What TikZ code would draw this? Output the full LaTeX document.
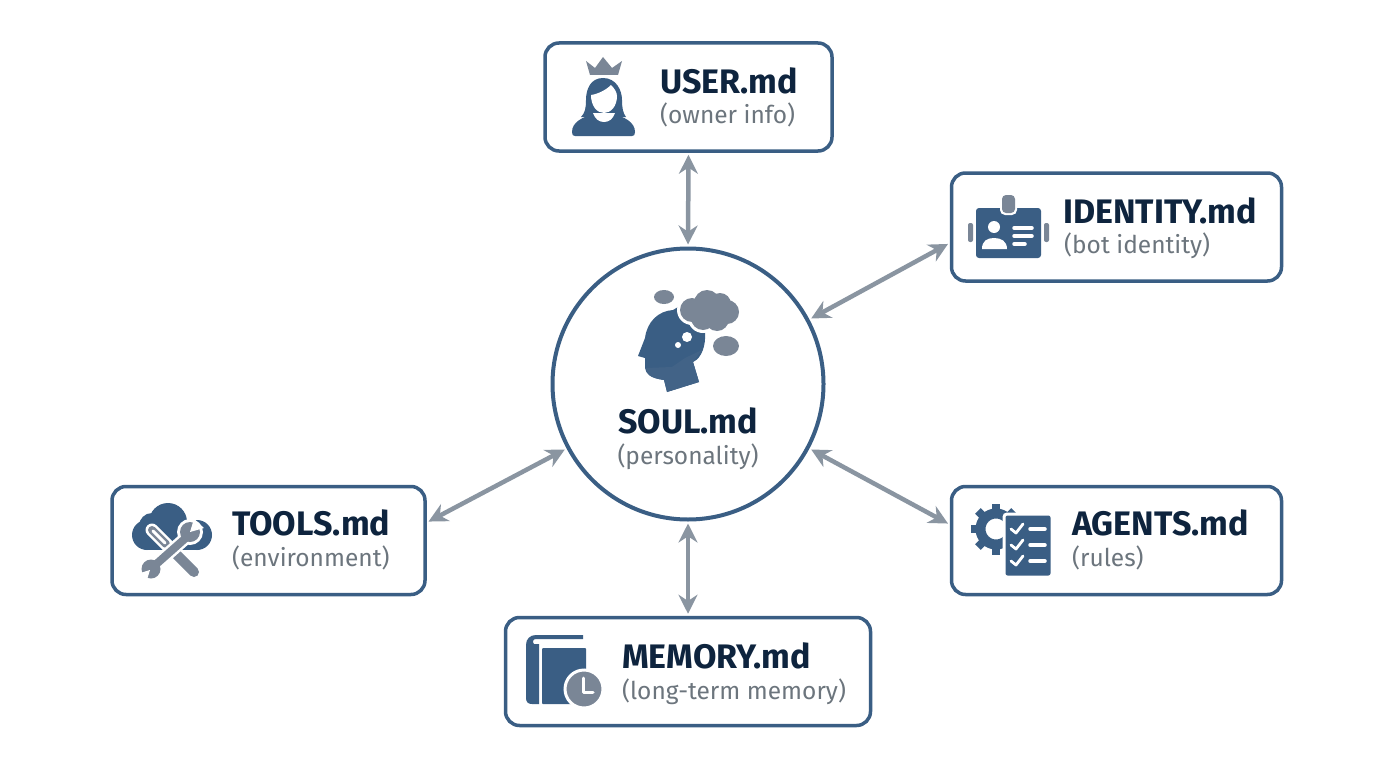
\documentclass[tikz,border=0pt]{standalone}
\usepackage{fontspec}
\setmainfont{Fira Sans}
\usetikzlibrary{arrows.meta,positioning}
\definecolor{sblue}{RGB}{58,94,132}
\definecolor{sgray}{RGB}{122,134,150}
\definecolor{snavy}{RGB}{14,36,62}
\definecolor{stext}{RGB}{108,117,125}
\definecolor{sarrow}{RGB}{138,149,161}
\definecolor{sdot}{RGB}{66,99,135}
\tikzset{
  box/.style    ={rectangle, rounded corners=14pt, draw=sblue, fill=white,
                  line width=3.5pt, minimum height=108pt},
  hub/.style    ={circle, draw=sblue, fill=white, line width=4pt, minimum size=271pt},
  ttl/.style    ={inner sep=0pt, text=snavy, font=\fontsize{34}{38}\selectfont\bfseries},
  sublbl/.style ={inner sep=0pt, text=stext, font=\fontsize{24.5}{30}\selectfont},
  ar/.style     ={{Stealth[length=19pt,width=19pt]}-{Stealth[length=19pt,width=19pt]},
                  draw=sarrow, line width=4.5pt, shorten <=2pt, shorten >=2pt},
  iblue/.style  ={fill=sblue, draw=none},
  igray/.style  ={fill=sgray, draw=none},
  iwhite/.style ={fill=white, draw=none},
  wline/.style  ={draw=white, line width=3.5pt, line cap=round, line join=round},
  gline/.style  ={draw=sgray, line cap=round}
}
\begin{document}
\begin{tikzpicture}[x=1pt,y=-1pt]
\useasboundingbox (0,0) rectangle (1376,768);

\node[hub] (soul) at (688,384) {};
\node[box, minimum width=287pt] (user) at (688.5,97) {};
\node[box, minimum width=330pt] (identity) at (1116.5,227) {};
\node[box, minimum width=313pt] (tools) at (268.5,540.5) {};
\node[box, minimum width=330pt] (agents) at (1116.5,540.5) {};
\node[box, minimum width=365pt] (memory) at (688,671.5) {};

\draw[ar] (user.south) -- (soul.north);
\draw[ar] (soul.28) -- ([yshift=-16pt]identity.west);
\draw[ar] (soul.208) -- ([yshift=18pt]tools.east);
\draw[ar] (soul.332) -- ([yshift=16pt]agents.west);
\draw[ar] (soul.south) -- (memory.north);

\node[ttl, anchor=base west] (usertitle) at (660,93) {USER.md};
\node[sublbl, anchor=base west] (usersub) at (660,123) {(owner info)};
\node[ttl, anchor=base west] (identitytitle) at (1063,223) {IDENTITY.md};
\node[sublbl, anchor=base west] (identitysub) at (1064,253) {(bot identity)};
\node[ttl, anchor=base] (soultitle) at (688,433) {SOUL.md};
\node[sublbl, anchor=base] (soulsub) at (688,464) {(personality)};
\node[ttl, anchor=base west] (toolstitle) at (232,535) {TOOLS.md};
\node[sublbl, anchor=base west] (toolssub) at (232,566) {(environment)};
\node[ttl, anchor=base west] (agentstitle) at (1072,535) {AGENTS.md};
\node[sublbl, anchor=base west] (agentssub) at (1072,566) {(rules)};
\node[ttl, anchor=base west] (memorytitle) at (622,668) {MEMORY.md};
\node[sublbl, anchor=base west] (memorysub) at (622,699) {(long-term memory)};

\fill[igray] (586,61) -- (595,68) -- (603,57) -- (612,68) -- (622,61) -- (618,75) -- (590,75) -- cycle;
\fill[iblue] (603,78) .. controls (590,78) and (586,90) .. (586,100) .. controls (586,108) and (585,113) .. (581,117)
  -- (626,117) .. controls (623,113) and (622,108) .. (622,100) .. controls (622,90) and (616,78) .. (603,78) -- cycle;
\fill[iblue] (572,132) .. controls (572,122) and (583,117) .. (593,114) -- (614,114) .. controls (624,117) and (635,122) .. (635,132)
  .. controls (635,135) and (634,136) .. (632,136) -- (575,136) .. controls (573,136) and (572,135) .. (572,132) -- cycle;
\fill[iwhite] (593,113) -- (615,113) .. controls (613,119) and (609,122) .. (604,122) .. controls (599,122) and (595,119) .. (593,113) -- cycle;
\fill[iwhite] (591,95) .. controls (598,94) and (606,90) .. (611,85) .. controls (614,88) and (617,92) .. (617,96)
  .. controls (617,106) and (611,113) .. (604,113) .. controls (597,113) and (591,106) .. (591,95) -- cycle;

\fill[igray, rounded corners=2pt] (968,223) rectangle (973,242);
\fill[igray, rounded corners=2pt] (1044,223) rectangle (1049,242);
\fill[iblue, rounded corners=3pt] (976,208) rectangle (1041,258);
\fill[white, rounded corners=5pt] (1000,193) rectangle (1017,215);
\fill[igray, rounded corners=4pt] (1002,195) rectangle (1015,213);
\fill[iwhite] (994,227) circle[radius=6pt];
\fill[iwhite] (982,249) .. controls (982,241) and (987,238) .. (994,238) .. controls (1001,238) and (1007,241) .. (1007,249) -- cycle;
\draw[wline] (1014,228) -- (1032,228);
\draw[wline] (1014,236) -- (1032,236);
\draw[wline] (1014,244) -- (1025,244);

\fill[iblue] (673,310) .. controls (658,311) and (647,322) .. (645,338) -- (638,356) -- (645,358) -- (645,368)
  .. controls (646,374) and (650,378) .. (664,380) -- (667,392) -- (699,382) -- (693,362)
  .. controls (702,358) and (706,345) .. (705,332) -- (690,300) -- cycle;
\fill[sdot] (646,368) -- (672,367) -- (685,358) -- (702,350) -- (693,362) -- (699,382) -- (667,392) -- (664,380)
  .. controls (650,378) and (646,374) .. (646,368) -- cycle;
\foreach \cx/\cy/\cr in {692/310/12,707/303/13,720/304/11,727/312/12,717/319/12,703/318/12}
  \fill[white] (\cx,\cy) circle[radius=\cr+3pt];
\foreach \cx/\cy/\cr in {692/310/12,707/303/13,720/304/11,727/312/12,717/319/12,703/318/12}
  \fill[igray] (\cx,\cy) circle[radius=\cr pt];
\fill[igray] (664,297) ellipse[x radius=10pt, y radius=7pt];
\fill[igray] (726,346) ellipse[x radius=13pt, y radius=10pt];
\fill[iwhite] (687,337) circle[radius=5pt];
\fill[iwhite] (678,345) circle[radius=3pt];

\fill[iblue] (147,535) circle[radius=15pt];
\fill[iblue] (152,526) circle[radius=13pt];
\fill[iblue] (168,522) circle[radius=19pt];
\fill[iblue] (197,535) circle[radius=15pt];
\fill[iblue] (147,530) rectangle (197,550);
\draw[white, line width=13pt, line cap=round] (152,530) -- (194,572);
\draw[gline, line width=10pt] (176,554) -- (194,572);
\draw[gline, line width=8pt] (152,530) -- (166,544);
\draw[wline, line width=3pt] (153,531) -- (165,543);
\draw[white, line width=13pt, line cap=round] (188,536) -- (153,567);
\fill[white] (190,532) circle[radius=13pt];
\fill[white] (151,569) circle[radius=12pt];
\draw[gline, line width=8pt] (188,536) -- (153,567);
\fill[igray] (190,532) circle[radius=10pt];
\fill[igray] (151,569) circle[radius=9.5pt];
\fill[iwhite] (190,532) -- (194,519) -- (204,528) -- cycle;
\fill[iwhite] (150,570) -- (146,583) -- (137,574) -- cycle;

\draw[sblue, line width=10pt] (996,529) circle[radius=15.5pt];
\foreach \a in {0,45,...,315}
  \draw[sblue, line width=8pt] (996,529) ++(\a:19) -- ++(\a:6.5);
\draw[fill=sblue, draw=white, line width=3pt, rounded corners=3pt] (1004,514) rectangle (1052,577);
\foreach \ry in {529,545,561} {
  \draw[wline, line width=2.8pt] (1011,\ry) -- ++(5,4) -- ++(7,-9);
  \draw[wline] (1030,\ry) -- (1045,\ry);
}

\fill[iblue] (583,635) -- (536,635) .. controls (530,635) and (526,639) .. (526,645) -- (526,698)
  .. controls (526,702) and (528,704) .. (532,704) -- (539,704) -- (539,644) -- (534,644)
  .. controls (532,642) and (533,639) .. (536,639) -- (583,639) -- cycle;
\fill[iblue, rounded corners=1pt] (542,648) rectangle (586,704);
\draw[fill=sgray, draw=white, line width=3pt] (584,689) circle[radius=19pt];
\draw[wline, line width=3pt] (583,678) -- (583,692) -- (593,692);
\end{tikzpicture}
\end{document}
